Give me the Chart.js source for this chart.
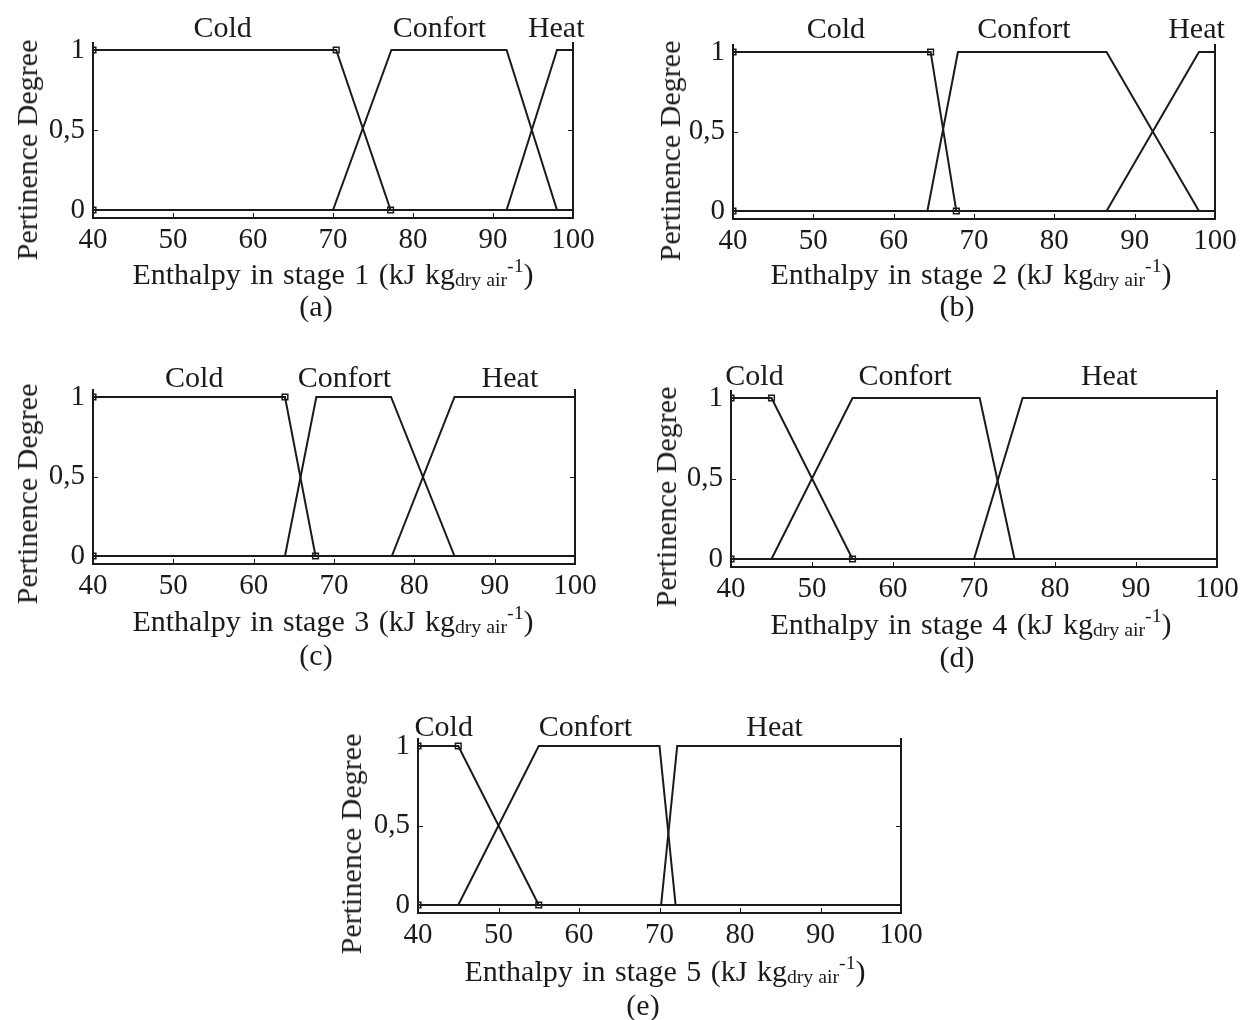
<!DOCTYPE html>
<html>
<head>
<meta charset="utf-8">
<script src="https://cdn.jsdelivr.net/npm/chart.js@4.4.0/dist/chart.umd.min.js"></script>
<style>
  body { margin: 0; width: 1242px; height: 1020px; position: relative; overflow: hidden; background: #fff;
         font-family: 'Liberation Serif', 'Times New Roman', serif; color: #1a1a1a; }
  canvas.mf { position: absolute; }
  .txt { position: absolute; white-space: nowrap; line-height: 1; transform: translate(-50%, -50%); }
  .ytitle { font-size: 30px; transform: translate(-50%, -50%) rotate(-90deg); }
  .xtitle { font-size: 30px; word-spacing: 2px; }
  .cap { font-size: 30px; }
  .xtitle sub { font-size: 0.66em; vertical-align: -0.12em; word-spacing: 0; }
  .xtitle sup { font-size: 0.66em; vertical-align: 0.62em; }
</style>
</head>
<body>
<script>
'use strict';
// ---- data ----
const xTicks      = [40, 50, 60, 70, 80, 90, 100];
const yTicks      = [0, 0.5, 1];
const yTickLabels = ['0', '0,5', '1'];
const stages      = ['1', '2', '3', '4', '5'];
const captions    = ['(a)', '(b)', '(c)', '(d)', '(e)'];
const mfNames     = ['Cold', 'Confort', 'Heat'];

// Cold: end of plateau, foot (enthalpy)
const coldPts    = [[70.4, 77.2], [64.6, 67.8], [63.9, 67.7], [45, 55], [45, 55]];
// Confort: left foot, plateau start, plateau end, right foot
const confortPts = [[70, 77.3, 91.7, 98], [64.2, 68, 86.5, 98], [63.9, 67.8, 77.1, 85], [45, 55, 70.7, 75], [45, 55, 70, 72]];
// Heat: foot, plateau start
const heatPts    = [[91.7, 98], [86.5, 98], [77.2, 85], [70, 76], [70.2, 72.2]];

// ---- layout ----
const INK  = '#1a1a1a';
const FONT = "'Liberation Serif', 'Times New Roman', serif";
const PAD  = { l: 90, r: 30, t: 40, b: 45 };

// plot box in page pixels, title / caption centres, where the MF names sit (enthalpy units)
const panels = [
  { L: 93,  R: 573,  T: 42,  B: 218, yt: [27, 150],  xt: [333, 273], cap: [316, 306],  gap: 5, nameX: [56.2, 83.3, 97.9] },
  { L: 733, R: 1215, T: 44,  B: 219, yt: [670, 151], xt: [971, 273], cap: [957, 306],  gap: 6, nameX: [52.8, 76.2, 97.7] },
  { L: 93,  R: 575,  T: 389, B: 564, yt: [27, 494],  xt: [333, 620], cap: [316, 655],  gap: 2, nameX: [52.6, 71.3, 91.9] },
  { L: 731, R: 1217, T: 390, B: 567, yt: [666, 497], xt: [971, 623], cap: [957, 657],  gap: 5, nameX: [42.9, 61.5, 86.7] },
  { L: 418, R: 901,  T: 738, B: 913, yt: [351, 844], xt: [665, 970], cap: [643, 1005], gap: 2, nameX: [43.2, 60.8, 84.3] },
];

// frame (left, bottom, right), inward ticks and the MF names above the plot
const framePlugin = {
  id: 'frame',
  afterDraw(chart, args, opts) {
    const { ctx, chartArea: a, scales: { x, y } } = chart;
    ctx.save();
    ctx.strokeStyle = INK;
    ctx.lineWidth = 2;
    ctx.beginPath();
    ctx.moveTo(a.left, a.top); ctx.lineTo(a.left, a.bottom);
    ctx.lineTo(a.right, a.bottom); ctx.lineTo(a.right, a.top);
    ctx.stroke();

    ctx.lineWidth = 1;
    ctx.beginPath();
    xTicks.forEach(v => {
      const px = Math.round(x.getPixelForValue(v)) + 0.5;
      ctx.moveTo(px, a.bottom); ctx.lineTo(px, a.bottom - 5);
    });
    yTicks.forEach(v => {
      const py = Math.round(y.getPixelForValue(v)) + 0.5;
      ctx.moveTo(a.left, py);  ctx.lineTo(a.left + 5, py);
      ctx.moveTo(a.right, py); ctx.lineTo(a.right - 5, py);
    });
    ctx.stroke();

    ctx.fillStyle = INK;
    ctx.font = '30px ' + FONT;
    ctx.textAlign = 'center';
    ctx.textBaseline = 'alphabetic';
    mfNames.forEach((n, i) => ctx.fillText(n, x.getPixelForValue(opts.nameX[i]), a.top - opts.gap));
    ctx.restore();
  }
};

function addText(cls, html, pos) {
  const d = document.createElement('div');
  d.className = 'txt ' + cls;
  d.innerHTML = html;
  d.style.left = pos[0] + 'px';
  d.style.top  = pos[1] + 'px';
  document.body.appendChild(d);
}

panels.forEach((p, i) => {
  const [cEnd, cFoot] = coldPts[i];
  const [fA, fB, fC, fD] = confortPts[i];
  const [hA, hB] = heatPts[i];

  const cv = document.createElement('canvas');
  cv.className = 'mf';
  cv.width  = (p.R - p.L) + PAD.l + PAD.r;
  cv.height = (p.B - p.T) + PAD.t + PAD.b;
  cv.style.left = (p.L - PAD.l) + 'px';
  cv.style.top  = (p.T - PAD.t) + 'px';
  document.body.appendChild(cv);

  const line = (pts) => ({
    data: pts.map(([x, y]) => ({ x, y })),
    borderColor: INK, borderWidth: 2, pointRadius: 0, tension: 0, fill: false,
  });

  new Chart(cv, {
    type: 'line',
    data: {
      datasets: [
        line([[40, 1], [cEnd, 1], [cFoot, 0], [100, 0]]),
        line([[40, 0], [fA, 0], [fB, 1], [fC, 1], [fD, 0], [100, 0]]),
        line([[40, 0], [hA, 0], [hB, 1], [100, 1]]),
        { // vertices of the selected MF (Cold)
          data: [{ x: 40, y: 1 }, { x: 40, y: 0 }, { x: cEnd, y: 1 }, { x: cFoot, y: 0 }],
          showLine: false, pointStyle: 'rect', pointRadius: 4,
          pointBackgroundColor: '#fff', pointBorderColor: INK, pointBorderWidth: 1.5,
          clip: 0,
        },
      ],
    },
    options: {
      responsive: false, animation: false, devicePixelRatio: 1,
      layout: { padding: { left: 0, top: PAD.t, right: PAD.r, bottom: 0 } },
      plugins: {
        legend: { display: false }, tooltip: { enabled: false },
        frame: { nameX: p.nameX, gap: p.gap },
      },
      scales: {
        x: {
          type: 'linear', min: 40, max: 100,
          grid: { display: false, drawTicks: false }, border: { display: false },
          afterBuildTicks: s => { s.ticks = xTicks.map(v => ({ value: v })); },
          ticks: { color: INK, font: { family: FONT, size: 29 }, padding: 5, maxRotation: 0, autoSkip: false },
          afterFit: s => { s.height = PAD.b; s.paddingLeft = 0; s.paddingRight = 0; },
        },
        y: {
          type: 'linear', min: -0.05, max: 1.05,
          grid: { display: false, drawTicks: false }, border: { display: false },
          afterBuildTicks: s => { s.ticks = yTicks.map(v => ({ value: v })); },
          ticks: { color: INK, font: { family: FONT, size: 29 }, padding: 8,
                   callback: (v, idx) => yTickLabels[idx] },
          afterFit: s => { s.width = PAD.l; s.paddingTop = 0; s.paddingBottom = 0; },
        },
      },
    },
    plugins: [framePlugin],
  });

  addText('ytitle', 'Pertinence Degree', p.yt);
  addText('xtitle', `Enthalpy in stage ${stages[i]} (kJ kg<sub>dry air</sub><sup>-1</sup>)`, p.xt);
  addText('cap', captions[i], p.cap);
});
</script>
</body>
</html>
